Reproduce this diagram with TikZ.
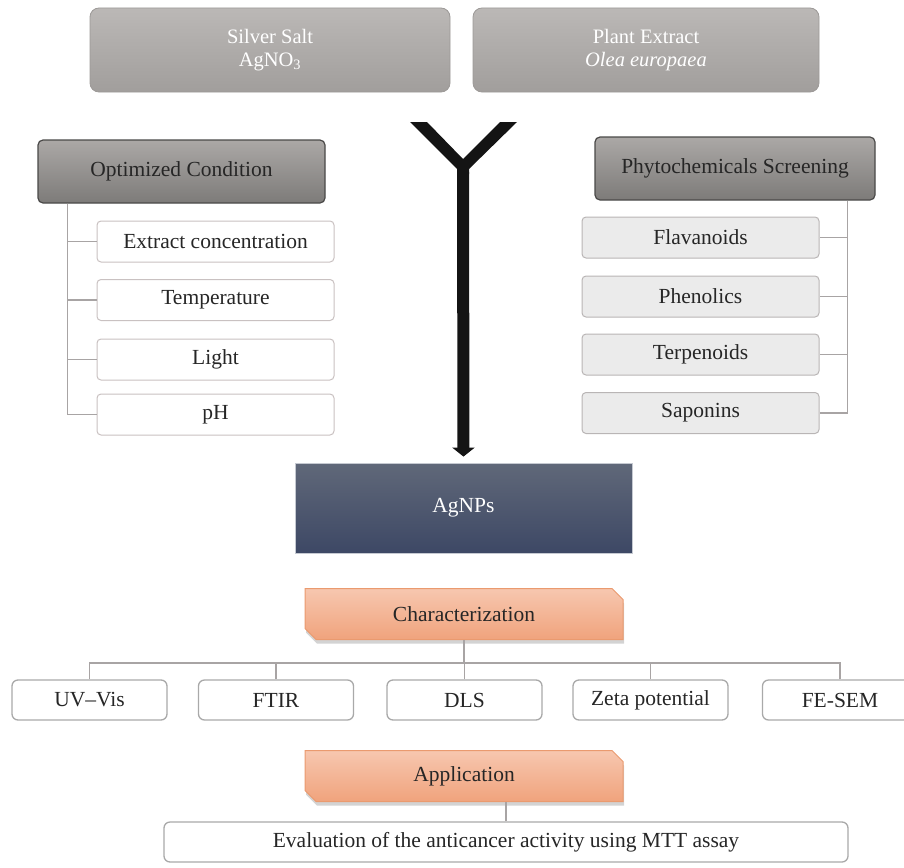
\documentclass[tikz,border=0pt]{standalone}
\usepackage{fontspec}
\setmainfont{Liberation Serif}
\usetikzlibrary{arrows.meta,positioning,calc,shapes.misc,shadows}
\definecolor{SrcTop}{HTML}{BBB8B6}
\definecolor{SrcBot}{HTML}{A19E9C}
\definecolor{SrcEdge}{HTML}{9C9997}
\definecolor{HeadTop}{HTML}{ABA8A6}
\definecolor{HeadBot}{HTML}{7D7B79}
\definecolor{HeadEdge}{HTML}{4A4948}
\definecolor{HeadText}{HTML}{262626}
\definecolor{CondEdge}{HTML}{C9C1C1}
\definecolor{PhytoFill}{HTML}{EBEBEB}
\definecolor{PhytoEdge}{HTML}{B9B5B5}
\definecolor{NanoTop}{HTML}{606879}
\definecolor{NanoBot}{HTML}{3D4865}
\definecolor{NanoEdge}{HTML}{C5C9D1}
\definecolor{StageTop}{HTML}{F7C7AF}
\definecolor{StageBot}{HTML}{F0A37D}
\definecolor{StageEdge}{HTML}{EA9A6F}
\definecolor{TechEdge}{HTML}{A9A9A9}
\definecolor{LinkGray}{HTML}{A8A4A4}

\begin{document}
\begin{tikzpicture}[
  x=1pt,y=-1pt,
  srcbox/.style={
    rounded corners=9pt,
    line width=0.8pt,
    draw=SrcEdge,
    top color=SrcTop,
    bottom color=SrcBot,
    text=white,
    align=center,
    inner sep=0pt,
    minimum height=84pt,
    font=\fontsize{20.5}{23.5}\selectfont
  },
  headbox/.style={
    rounded corners=5pt,
    line width=1.2pt,
    draw=HeadEdge,
    top color=HeadTop,
    bottom color=HeadBot,
    text=HeadText,
    inner sep=0pt,
    minimum height=63pt,
    font=\fontsize{21.5}{25}\selectfont
  },
  condbox/.style={
    rounded corners=4pt,
    line width=1pt,
    draw=CondEdge,
    fill=white,
    text=HeadText,
    inner sep=0pt,
    minimum width=237pt,
    minimum height=41pt,
    font=\fontsize{21.5}{25}\selectfont
  },
  phytobox/.style={
    condbox,
    draw=PhytoEdge,
    fill=PhytoFill
  },
  nanobox/.style={
    line width=0.8pt,
    draw=NanoEdge,
    top color=NanoTop,
    bottom color=NanoBot,
    text=white,
    inner sep=0pt,
    minimum width=337pt,
    minimum height=90pt,
    font=\fontsize{21.5}{25}\selectfont
  },
  stagebox/.style={
    chamfered rectangle,
    chamfered rectangle corners={north east,south west},
    chamfered rectangle sep=5.5pt,
    line width=1pt,
    draw=StageEdge,
    top color=StageTop,
    bottom color=StageBot,
    text=HeadText,
    inner sep=0pt,
    minimum width=318pt,
    minimum height=51pt,
    drop shadow={opacity=0.35,shadow xshift=1pt,shadow yshift=-4pt},
    font=\fontsize{21.5}{25}\selectfont
  },
  techbox/.style={
    rounded corners=6pt,
    line width=1.3pt,
    draw=TechEdge,
    fill=white,
    text=HeadText,
    inner sep=0pt,
    minimum width=155pt,
    minimum height=40pt,
    font=\fontsize{21.5}{25}\selectfont
  },
  branch/.style={
    line width=1.3pt,
    draw=LinkGray
  },
  merge/.style={
    line width=12pt,
    draw=black!92,
    -{Triangle[width=22pt,length=9pt]}
  }
]
\useasboundingbox (0,0) rectangle (904,867);

% -------------------------------------------------
% Starting materials
% -------------------------------------------------
\node[srcbox, minimum width=360pt] (silver) at (270,50)
  {Silver Salt\\AgNO\textsubscript{3}};
\node[srcbox, minimum width=346pt] (plant) at (646,50)
  {Plant Extract\\\textit{Olea europaea}};

% -------------------------------------------------
% Optimized condition (left)
% -------------------------------------------------
\node[headbox, minimum width=287pt] (optcond) at (181.5,171.5) {Optimized Condition};

\node[condbox] (opt1) at (215.5,241.5) {Extract concentration};
\node[condbox] (opt2) at (215.5,300) {Temperature};
\node[condbox] (opt3) at (215.5,359.5) {Light};
\node[condbox] (opt4) at (215.5,414.5) {pH};

\coordinate (optroot) at ($(optcond.south west)+(30,0)$);
\draw[branch] (optroot) |- (opt1.west);
\draw[branch] (optroot) |- (opt2.west);
\draw[branch] (optroot) |- (opt3.west);
\draw[branch] (optroot) |- (opt4.west);

% -------------------------------------------------
% Phytochemicals screening (right)
% -------------------------------------------------
\node[headbox, minimum width=280pt] (phyto) at (735,168.5) {Phytochemicals Screening};

\node[phytobox] (phy1) at (700.5,237.5) {Flavanoids};
\node[phytobox] (phy2) at (700.5,296.5) {Phenolics};
\node[phytobox] (phy3) at (700.5,354.5) {Terpenoids};
\node[phytobox] (phy4) at (700.5,413) {Saponins};

\coordinate (phyroot) at ($(phyto.south east)+(-28,0)$);
\draw[branch] (phyroot) |- (phy1.east);
\draw[branch] (phyroot) |- (phy2.east);
\draw[branch] (phyroot) |- (phy3.east);
\draw[branch] (phyroot) |- (phy4.east);

% -------------------------------------------------
% Synthesis
% -------------------------------------------------
\node[nanobox] (agnps) at (463.5,508) {AgNPs};

\coordinate (yjoin) at (463,172);
\fill[black!92] (410,122) -- (457,169) -- (457,174) -- (469,174) -- (469,169)
  -- (517,122) -- (500,122) -- (463,159) -- (427,122) -- cycle;
\draw[merge, shorten >=6pt] (yjoin) -- (agnps.north);

% -------------------------------------------------
% Characterization
% -------------------------------------------------
\node[stagebox] (charact) at (464,614) {Characterization};

\node[techbox] (uvvis) at (89.5,700) {UV–Vis};
\node[techbox] (ftir) at (276,700) {FTIR};
\node[techbox] (dls) at (464.5,700) {DLS};
\node[techbox] (zeta) at (650.5,700) {Zeta potential};
\node[techbox] (fesem) at (840,700) {FE-SEM};

\coordinate (charhub) at ($(charact.south)+(0,23)$);
\draw[branch] (charact.south) -- (charhub);
\draw[branch] (uvvis.north) |- (charhub);
\draw[branch] (ftir.north) |- (charhub);
\draw[branch] (dls.north) |- (charhub);
\draw[branch] (zeta.north) |- (charhub);
\draw[branch] (fesem.north) |- (charhub);

% -------------------------------------------------
% Application
% -------------------------------------------------
\node[stagebox] (applic) at (464,776) {Application};

\node[techbox, minimum width=684pt] (mtt) at (506,842)
  {Evaluation of the anticancer activity using MTT assay};

\draw[branch] (mtt.north) -- (mtt.north |- applic.south);

\end{tikzpicture}
\end{document}
